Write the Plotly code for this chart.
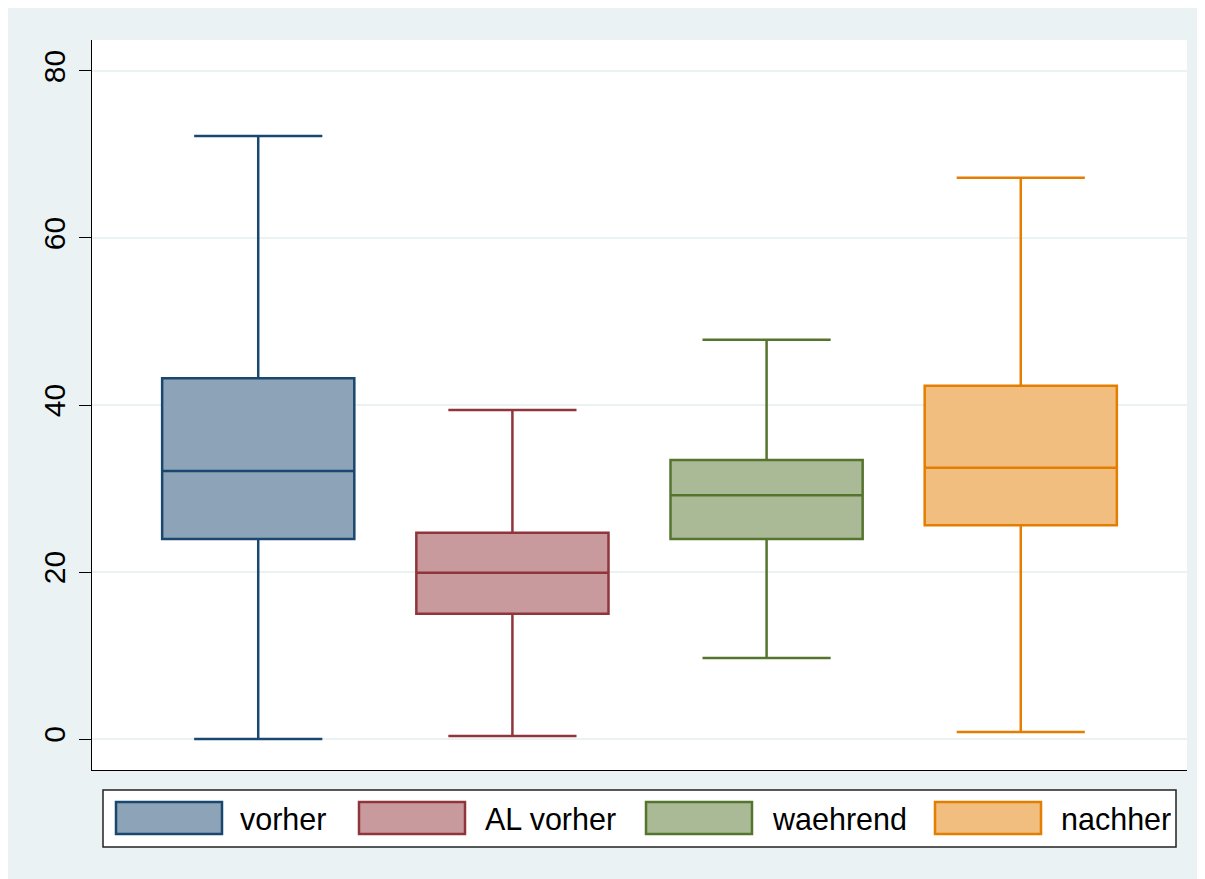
import plotly.graph_objects as go

# ---- data ----
categories = ["vorher", "AL vorher", "waehrend", "nachher"]
lower_whisker = [0.0, 0.35, 9.7, 0.85]
q1_values = [23.95, 15.0, 23.95, 25.6]
medians = [32.1, 19.9, 29.2, 32.5]
q3_values = [43.2, 24.7, 33.4, 42.3]
upper_whisker = [72.2, 39.4, 47.8, 67.2]
y_tick_values = [0, 20, 40, 60, 80]

line_colors = ["#1a476f", "#90353b", "#55752f", "#e37e00"]
fill_colors = ["#8da3b7", "#c89a9d", "#aaba97", "#f1be80"]

OFF = 8  # page body margin
W, H = 1205, 879
L, R, T, B = 92 - OFF, 1187 - OFF, 40 - OFF, 770 - OFF  # plot area in figure pixels


def px(x):
    return (x - OFF - L) / (R - L)


def py(y):
    return (B - (y - OFF)) / (B - T)


fig = go.Figure()
for i, name in enumerate(categories):
    fig.add_trace(go.Box(
        x=[name], q1=[q1_values[i]], median=[medians[i]], q3=[q3_values[i]],
        lowerfence=[lower_whisker[i]], upperfence=[upper_whisker[i]],
        name=name, width=0.756, whiskerwidth=0.667,
        line=dict(color=line_colors[i], width=2.5),
        fillcolor=fill_colors[i], boxpoints=False, showlegend=False,
        hoverinfo="skip",
    ))

shapes = [
    # legend box
    dict(type="rect", xref="paper", yref="paper", x0=px(103), x1=px(1176),
         y0=py(847), y1=py(790), fillcolor="white",
         line=dict(color="#222222", width=1.5)),
]
annotations = []
swatch_x = [116, 359, 646, 935]
text_x = [238, 483, 770, 1059]
for i, name in enumerate(categories):
    shapes.append(dict(type="rect", xref="paper", yref="paper",
                       x0=px(swatch_x[i]), x1=px(swatch_x[i] + 106),
                       y0=py(834), y1=py(802), fillcolor=fill_colors[i],
                       line=dict(color=line_colors[i], width=2.5)))
    annotations.append(dict(xref="paper", yref="paper", x=px(text_x[i]), y=py(819),
                            text=name, showarrow=False, xanchor="left", yanchor="middle",
                            font=dict(size=30.5, color="black",
                                      family="Liberation Sans, Arial, sans-serif")))

fig.update_layout(
    width=W, height=H,
    margin=dict(l=L, r=W - R, t=T, b=H - B, pad=0),
    paper_bgcolor="#eaf2f3", plot_bgcolor="white",
    shapes=shapes, annotations=annotations,
    font=dict(family="Liberation Sans, Arial, sans-serif", color="black"),
    xaxis=dict(range=[-0.654, 3.654], showticklabels=False, ticks="",
               showgrid=False, zeroline=False, showline=True,
               linecolor="black", linewidth=1.2, fixedrange=True),
    yaxis=dict(range=[-3.71, 83.71], tickvals=y_tick_values,
               ticktext=[str(v) for v in y_tick_values],
               tickangle=-90, ticks="outside", ticklen=12, tickwidth=1.2,
               tickcolor="black", ticklabelstandoff=2,
               tickfont=dict(size=30, color="black"),
               showgrid=True, gridcolor="#eaf2f3", gridwidth=2,
               zeroline=False, showline=True, linecolor="black", linewidth=1.2),
    showlegend=False,
)

fig.write_html("out.html")
